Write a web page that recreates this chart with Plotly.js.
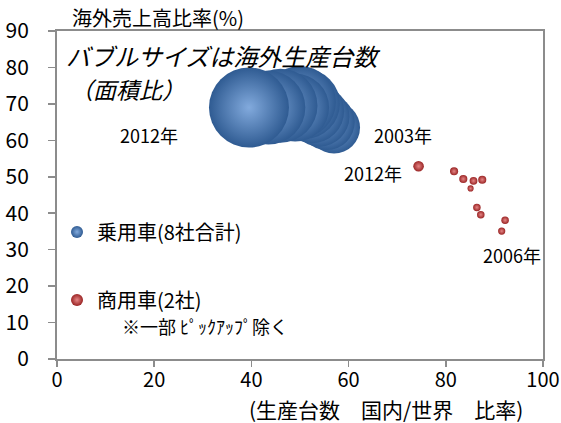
<!DOCTYPE html>
<html>
<head>
<meta charset="utf-8">
<script src="https://cdn.plot.ly/plotly-3.0.1.min.js"></script>
<style>html,body{margin:0;padding:0;background:#fff;}#chart{width:561px;height:423px;}</style>
</head>
<body>
<div id="chart"></div>
<script>
// ---- data ----
const years = [2003, 2004, 2005, 2006, 2007, 2008, 2009, 2010, 2011, 2012];
// 乗用車(8社合計)
const carDomesticRatio = [57.0, 55.5, 54.0, 52.5, 51.0, 50.0, 49.0, 46.0, 43.5, 39.5];
const carOverseasSales = [63.5, 65.0, 66.5, 68.0, 70.0, 70.5, 69.0, 69.5, 69.0, 69.0];
const carOverseasProd = [5.75, 6.66, 7.65, 8.7, 10.4, 11.0, 9.8, 11.6, 11.6, 13.6];
// 商用車(2社)
const comDomesticRatio = [87.2, 86.4, 92.2, 91.5, 85.1, 87.5, 85.7, 83.6, 81.7, 74.4];
const comOverseasSales = [39.6, 41.6, 38.1, 35.1, 46.8, 49.2, 48.9, 49.4, 51.5, 52.9];
const comOverseasProd = [0.06, 0.06, 0.06, 0.055, 0.04, 0.07, 0.065, 0.07, 0.07, 0.12];

const xTicks = [0, 20, 40, 60, 80, 100];
const yTicks = [0, 10, 20, 30, 40, 50, 60, 70, 80, 90];
const seriesNames = ['乗用車(8社合計)', '商用車(2社)'];

const FONT = 'Liberation Sans Narrow, Noto Sans CJK JP, sans-serif';
const JFONT = 'Noto Sans CJK JP, sans-serif';
const sizeref = 0.00425;

const traces = [
  {
    type: 'scatter', mode: 'markers', name: seriesNames[0], legendgroup: 'a',
    x: carDomesticRatio, y: carOverseasSales, text: years,
    marker: {size: carOverseasProd, sizemode: 'area', sizeref: sizeref,
      color: '#2f5b92', gradient: {type: 'radial', color: '#82aadd'}, line: {width: 0}, opacity: 1},
    hoverinfo: 'text+x+y'
  },
  {
    type: 'scatter', mode: 'markers', name: seriesNames[1], legendgroup: 'b',
    x: comDomesticRatio, y: comOverseasSales, text: years,
    marker: {size: comOverseasProd, sizemode: 'area', sizeref: sizeref / 2,
      color: '#9a2424', gradient: {type: 'radial', color: '#e58585'}, line: {width: 0}, opacity: 1},
    hoverinfo: 'text+x+y'
  }
];

const annFont = {family: JFONT, size: 18, color: '#000'};
const layout = {
  width: 561, height: 423,
  margin: {l: 57, r: 18, t: 30.5, b: 64},
  paper_bgcolor: '#fff', plot_bgcolor: '#fff',
  font: {family: FONT, size: 17, color: '#000'},
  showlegend: true,
  legend: {x: 0.0, y: 0.447, xanchor: 'left', yanchor: 'top', bgcolor: 'rgba(0,0,0,0)',
    font: {family: JFONT, size: 20, color: '#000'}, itemsizing: 'constant',
    traceorder: 'grouped', tracegroupgap: 39},
  xaxis: {range: [0, 100], tickvals: xTicks, ticktext: xTicks.map(String), showgrid: false, zeroline: false,
    showline: true, linecolor: '#8c8c8c', linewidth: 2, mirror: true,
    ticks: 'outside', ticklen: 6, tickcolor: '#8c8c8c', tickwidth: 1.5,
    ticklabeloverflow: 'allow', ticklabelstandoff: -4,
    tickfont: {family: FONT, size: 20}, fixedrange: true},
  yaxis: {range: [0, 90], tickvals: yTicks, ticktext: yTicks.map(String), showgrid: false, zeroline: false,
    showline: true, linecolor: '#8c8c8c', linewidth: 2, mirror: true,
    ticks: 'outside', ticklen: 7, tickcolor: '#8c8c8c', tickwidth: 1.5,
    ticklabelstandoff: 15,
    tickfont: {family: FONT, size: 21}, fixedrange: true},
  annotations: [
    {xref: 'paper', yref: 'paper', x: 0.026, y: 1.0, yshift: 14, xanchor: 'left', yanchor: 'middle',
      text: '海外売上高比率(%)', showarrow: false, font: {family: JFONT, size: 20, color: '#000'}},
    {xref: 'paper', yref: 'paper', x: 0.677, y: 0, yshift: -50, xanchor: 'center', yanchor: 'middle',
      text: '(生産台数　国内/世界　比率)', showarrow: false, font: {family: JFONT, size: 21, color: '#000'}},
    {x: 1.4, y: 83.3, xanchor: 'left', yanchor: 'middle', showarrow: false,
      text: '<i>バブルサイズは海外生産台数</i>', font: {family: JFONT, size: 24, color: '#000'}},
    {x: 2.2, y: 74.2, xanchor: 'left', yanchor: 'middle', showarrow: false,
      text: '<i>（面積比）</i>', font: {family: JFONT, size: 23, color: '#000'}},
    {x: 19.0, y: 61.4, xanchor: 'center', yanchor: 'middle', showarrow: false, text: '2012年', font: annFont},
    {x: 71.2, y: 61.4, xanchor: 'center', yanchor: 'middle', showarrow: false, text: '2003年', font: annFont},
    {x: 65.0, y: 51.0, xanchor: 'center', yanchor: 'middle', showarrow: false, text: '2012年', font: annFont},
    {x: 93.7, y: 28.5, xanchor: 'center', yanchor: 'middle', showarrow: false, text: '2006年', font: annFont},
    {x: 12.9, y: 9.0, xanchor: 'left', yanchor: 'middle', showarrow: false, text: '※一部 ﾋﾟｯｸｱｯﾌﾟ除く', font: annFont}
  ]
};

Plotly.newPlot('chart', traces, layout, {displayModeBar: false, staticPlot: true});
</script>
</body>
</html>
